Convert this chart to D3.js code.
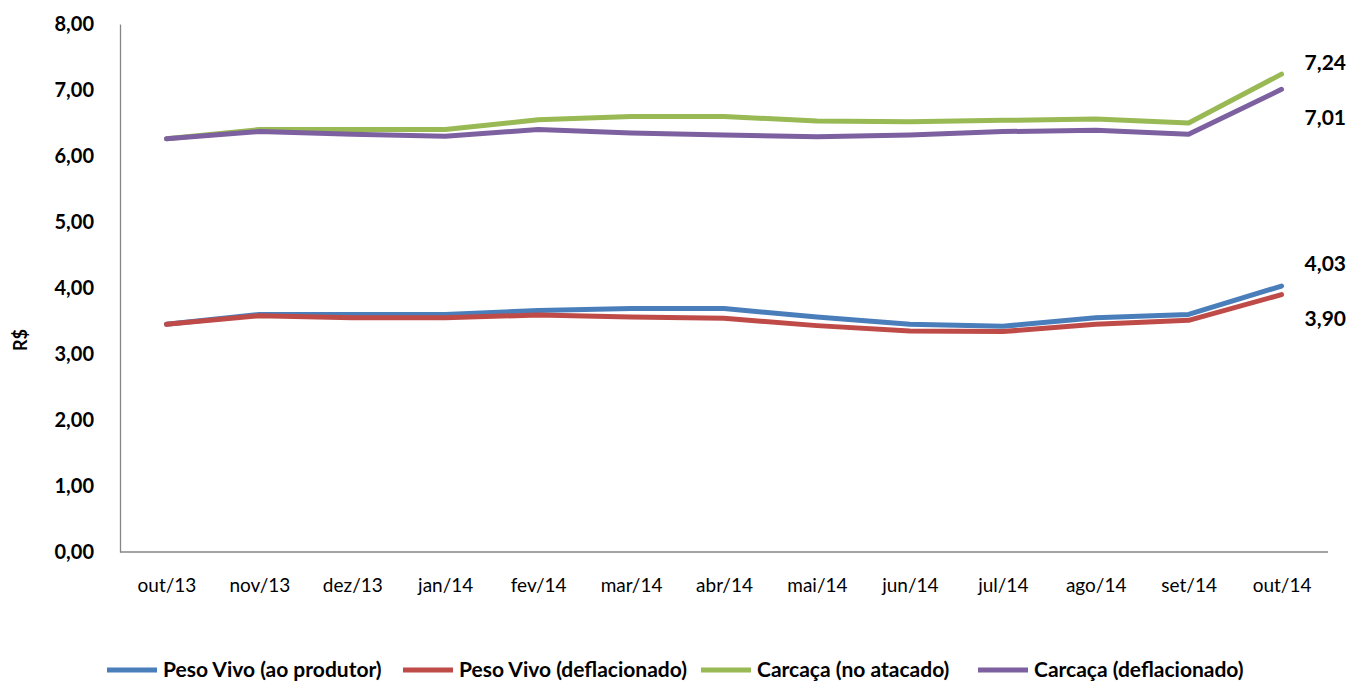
<!DOCTYPE html>
<html>
<head>
<meta charset="utf-8">
<script src="https://cdn.jsdelivr.net/npm/d3@7"></script>
<style>
  html, body { margin: 0; padding: 0; background: #fff; }
  svg { display: block; }
  text { font-family: Lato, "Open Sans", sans-serif; fill: #000; }
</style>
</head>
<body>
<svg id="chart" width="1351" height="681"></svg>
<script>
const months = ["out/13","nov/13","dez/13","jan/14","fev/14","mar/14","abr/14","mai/14","jun/14","jul/14","ago/14","set/14","out/14"];

const pesoVivoProdutor   = [3.45, 3.60, 3.60, 3.60, 3.66, 3.69, 3.69, 3.56, 3.45, 3.42, 3.55, 3.60, 4.03];
const pesoVivoDeflac     = [3.45, 3.58, 3.55, 3.55, 3.59, 3.56, 3.54, 3.43, 3.35, 3.34, 3.45, 3.51, 3.90];
const carcacaAtacado     = [6.26, 6.40, 6.40, 6.40, 6.55, 6.60, 6.60, 6.53, 6.52, 6.54, 6.56, 6.50, 7.24];
const carcacaDeflac      = [6.26, 6.37, 6.33, 6.30, 6.40, 6.35, 6.32, 6.29, 6.32, 6.37, 6.39, 6.33, 7.01];

const yTicks = [0, 1, 2, 3, 4, 5, 6, 7, 8];

const series = [
  { name: "Peso Vivo (ao produtor)", values: pesoVivoProdutor, color: "#4a7ebb", labelDy: -22 },
  { name: "Peso Vivo (deflacionado)", values: pesoVivoDeflac,  color: "#be4b48", labelDy: 24 },
  { name: "Carcaça (no atacado)",     values: carcacaAtacado,  color: "#98b954", labelDy: -12 },
  { name: "Carcaça (deflacionado)",   values: carcacaDeflac,   color: "#7d60a0", labelDy: 28 }
];

const svg = d3.select("#chart");
const plot = { left: 120, right: 1328, top: 24, bottom: 552 };

const x = d3.scalePoint().domain(months).range([plot.left, plot.right]).padding(0.5);
const y = d3.scaleLinear().domain([0, 8]).range([plot.bottom, plot.top]);

const fmt = v => d3.format(".2f")(v).replace(".", ",");

// y axis
const yAxis = svg.append("g")
  .attr("transform", `translate(${plot.left},0)`)
  .call(d3.axisLeft(y).tickValues(yTicks).tickSize(0).tickPadding(26).tickFormat(fmt));
yAxis.select(".domain").attr("stroke", "#868686").attr("stroke-width", 1.3);
yAxis.selectAll("text")
  .style("font-family", 'Lato, "Open Sans", sans-serif')
  .style("font-size", "20px").style("font-weight", "bold").attr("fill", "#000");

// x axis
const xAxis = svg.append("g")
  .attr("transform", `translate(0,${plot.bottom})`)
  .call(d3.axisBottom(x).tickSize(0).tickPadding(27));
xAxis.select(".domain").attr("stroke", "#868686").attr("stroke-width", 1.3)
  .attr("d", `M${plot.left},0H${plot.right}`);
xAxis.selectAll("text")
  .style("font-family", 'Lato, "Open Sans", sans-serif')
  .style("font-size", "19px").attr("fill", "#000");

// axis title
svg.append("text")
  .attr("transform", "translate(27,340) rotate(-90)")
  .attr("text-anchor", "middle")
  .style("font-size", "18px").style("font-weight", "bold")
  .text("R$");

// series lines
const line = d3.line().x((d, i) => x(months[i])).y(d => y(d));
svg.append("g").selectAll("path").data(series).join("path")
  .attr("d", s => line(s.values))
  .attr("fill", "none")
  .attr("stroke", s => s.color)
  .attr("stroke-width", 5)
  .attr("stroke-linecap", "round")
  .attr("stroke-linejoin", "round");

// end value labels
svg.append("g").selectAll("text").data(series).join("text")
  .attr("x", s => x(months[months.length - 1]) + 23)
  .attr("y", s => y(s.values[s.values.length - 1]) + s.labelDy)
  .attr("dy", "0.35em")
  .style("font-size", "21px").style("font-weight", "bold")
  .text(s => fmt(s.values[s.values.length - 1]));

// legend
const legendX = [107, 403, 701, 978];
const lg = svg.append("g").selectAll("g").data(series).join("g")
  .attr("transform", (s, i) => `translate(${legendX[i]},670)`);
lg.append("line")
  .attr("x1", 0).attr("x2", 50).attr("y1", 0).attr("y2", 0)
  .attr("stroke", s => s.color).attr("stroke-width", 5);
lg.append("text")
  .attr("x", 56).attr("dy", "0.35em")
  .style("font-size", "21px").style("font-weight", "bold")
  .text(s => s.name);
</script>
</body>
</html>
